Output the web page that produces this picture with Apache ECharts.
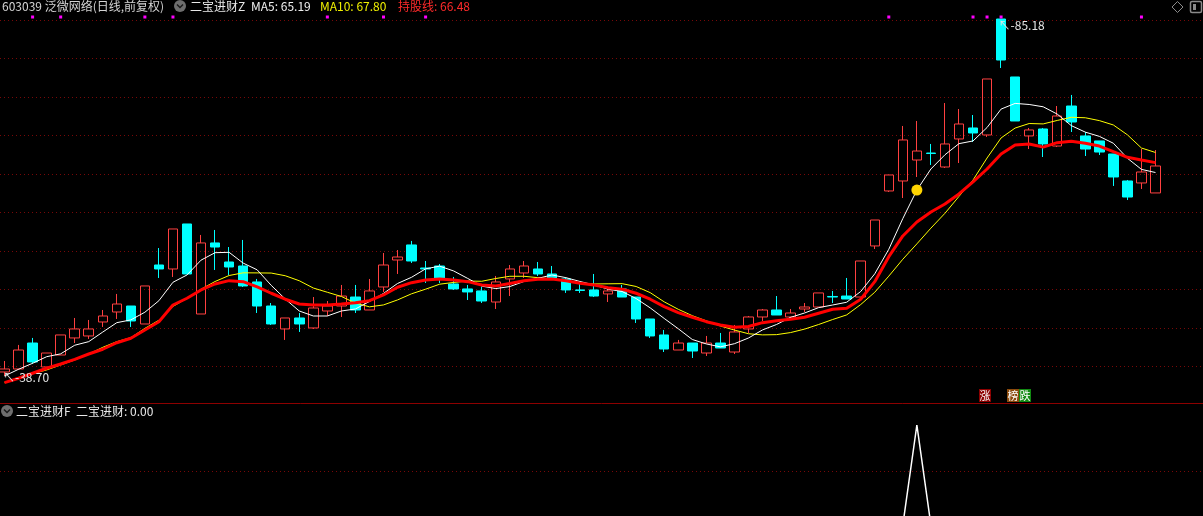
<!DOCTYPE html>
<html>
<head>
<meta charset="utf-8">
<title>603039 泛微网络</title>
<script src="https://cdn.jsdelivr.net/npm/echarts@6.0.0/dist/echarts.min.js"></script>
<style>
html, body { margin: 0; padding: 0; background: #000; overflow: hidden; }
#kline { width: 1203px; height: 516px; }
</style>
</head>
<body>
<div id="kline"></div>
<script>
// daily candles (price)
const opens = [39.22,39.61,42.99,39.87,41.43,43.65,43.91,45.73,47.03,47.81,
  45.47,53.15,52.63,58.49,46.77,56.02,53.54,53.02,50.94,47.81,
  44.82,46.25,44.95,47.16,47.81,48.98,47.29,50.29,53.80,55.76,
  52.76,53.02,50.68,50.03,49.77,48.33,51.33,52.11,52.63,51.98,
  51.33,49.90,49.90,49.38,50.03,48.98,46.12,44.04,42.08,42.99,
  41.69,42.99,41.82,44.82,46.38,47.29,46.38,47.42,47.68,49.05,
  49.11,48.98,55.63,62.79,64.09,66.82,67.73,65.91,69.56,70.99,
  70.08,85.18,77.63,69.95,70.86,68.64,73.85,69.95,69.30,67.60,
  64.09,63.83,62.53];
const closes = [39.61,42.08,40.52,41.69,44.04,44.82,44.82,46.51,48.07,45.86,
  50.42,52.63,57.84,51.98,56.02,55.49,52.89,50.42,47.81,45.47,
  46.25,45.47,47.55,47.81,49.11,47.29,49.77,53.15,54.19,53.67,
  52.63,51.33,50.03,49.64,48.46,50.94,52.63,53.02,51.98,51.46,
  49.90,49.84,49.11,49.77,48.98,46.12,43.91,42.21,42.99,41.95,
  42.99,42.34,44.43,46.38,47.29,46.64,46.90,47.68,49.51,48.98,
  48.72,53.67,59.01,64.87,69.43,67.99,67.67,68.91,71.51,70.34,
  77.37,79.84,71.90,70.73,68.91,72.55,71.77,68.25,67.86,64.61,
  62.00,65.26,66.04];
const lows = [38.70,39.48,40.26,39.87,41.43,42.99,43.52,45.08,46.12,45.08,
  45.47,51.46,51.59,51.98,46.77,52.50,51.85,50.29,46.90,45.34,
  43.39,44.43,44.82,46.51,46.38,46.90,47.29,49.64,51.98,53.41,
  50.81,50.81,49.90,48.59,48.20,47.42,49.11,51.46,51.72,51.20,
  49.51,49.51,48.98,48.33,48.98,45.60,43.65,41.82,42.08,41.04,
  41.30,42.34,41.56,44.30,45.86,46.64,45.99,47.03,47.68,48.20,
  48.72,48.98,55.23,62.66,61.87,64.61,66.17,65.78,66.43,69.17,
  69.82,78.80,71.90,68.25,67.21,68.51,70.47,67.34,67.47,63.44,
  61.61,63.05,62.53];
const highs = [40.65,42.74,43.65,41.69,44.04,46.25,45.99,47.29,49.38,47.81,
  50.42,55.36,57.84,58.49,57.06,57.71,55.49,56.41,51.33,48.20,
  46.25,46.90,48.98,48.46,50.55,50.55,51.33,54.71,55.10,56.28,
  53.67,53.28,51.59,50.55,50.29,51.72,53.15,53.67,53.54,53.02,
  51.46,50.81,51.98,50.03,50.55,48.98,46.12,44.69,43.39,42.99,
  43.91,44.30,45.34,46.51,47.42,49.11,47.42,48.20,49.51,49.77,
  51.46,53.67,59.01,64.87,71.25,71.90,68.91,74.24,73.46,72.68,
  77.37,85.18,77.63,70.99,70.99,73.85,75.29,70.47,69.30,67.60,
  64.22,68.25,68.12];

// indicator lines
const ma5 = [38.70,39.57,40.35,41.21,41.58,42.70,43.17,44.42,45.64,46.00,
  47.00,48.50,50.90,51.85,53.78,54.75,54.80,53.40,52.52,50.50,
  48.72,47.16,46.51,46.51,47.16,47.42,48.40,49.45,50.74,51.55,
  52.65,53.00,52.37,51.40,50.40,50.08,50.34,51.00,51.41,51.85,
  51.50,51.00,50.55,50.00,49.70,48.78,47.57,46.19,44.85,43.45,
  42.87,42.49,42.90,43.64,44.69,45.40,46.33,46.90,47.60,47.94,
  48.30,49.70,52.00,55.20,59.20,62.90,65.65,67.50,68.95,69.30,
  71.05,73.45,74.19,74.05,73.75,72.80,71.30,70.45,69.90,69.00,
  67.05,65.60,65.19];
const ma10 = [37.83,38.40,39.00,39.48,40.13,40.78,41.56,42.43,43.17,43.69,
  44.90,45.96,47.75,48.80,50.00,51.00,51.78,52.13,52.12,52.10,
  51.75,51.10,50.15,49.60,49.05,48.20,47.70,47.95,48.60,49.40,
  50.00,50.65,50.88,51.06,51.03,51.39,51.68,51.68,51.50,51.35,
  51.00,50.80,50.68,50.70,50.72,50.35,49.55,48.35,47.38,46.55,
  45.88,45.20,44.68,44.20,44.05,44.08,44.35,44.80,45.40,46.05,
  46.65,48.00,49.60,51.70,53.90,55.90,57.95,59.88,62.08,64.21,
  67.08,69.69,70.98,71.57,71.52,71.97,72.38,72.32,71.95,71.38,
  70.10,68.38,67.80];
const holdLine = [37.83,38.40,39.05,39.70,40.26,40.87,41.56,42.18,43.03,43.61,
  44.69,45.77,47.94,48.82,49.90,50.68,51.11,50.98,50.29,49.47,
  48.69,48.07,47.94,47.94,48.07,48.24,48.50,49.25,50.25,50.85,
  51.20,51.33,51.20,50.98,50.55,50.42,50.74,51.11,51.29,51.33,
  51.11,50.77,50.55,50.20,49.99,49.47,48.69,47.72,46.94,46.34,
  45.77,45.34,45.04,45.14,45.64,45.90,46.08,46.34,46.86,47.38,
  47.51,48.69,50.98,54.23,56.93,58.75,60.05,61.09,62.40,63.96,
  65.65,67.60,68.78,68.91,68.50,69.08,69.26,69.00,68.64,67.90,
  67.17,66.82,66.48];

// 二宝进财F: 0 except the buy day
const signalF = [0,0,0,0,0,0,0,0,0,0, 0,0,0,0,0,0,0,0,0,0,
  0,0,0,0,0,0,0,0,0,0, 0,0,0,0,0,0,0,0,0,0,
  0,0,0,0,0,0,0,0,0,0, 0,0,0,0,0,0,0,0,0,0,
  0,0,0,0,0,1,0,0,0,0, 0,0,0,0,0,0,0,0,0,0, 0,0,0];
const buyDays = [65];
const flagDays = [2,4,10,12,23,27,30,63,69,70,71,81];

const days = opens.map((_, i) => String(i + 1));

const FONT = '"Noto Sans CJK SC", "Noto Sans", sans-serif';
const GRIDC = '#780808';

let chart = echarts.init(document.getElementById('kline'));

let candles = opens.map((o, i) => [o, closes[i], lows[i], highs[i]]);
let hiVal = Math.max(...highs), loVal = Math.min(...lows);
let hiIdx = highs.indexOf(hiVal), loIdx = lows.indexOf(loVal);

function lineSerie(name, data, color, width) {
    return {
        name: name, type: 'line', data: data,
        xAxisIndex: 0, yAxisIndex: 0,
        symbol: 'none', silent: true,
        lineStyle: { color: color, width: width }
    };
}

function headText(x, y, text, color) {
    return {
        type: 'text', x: x, y: y, z: 100,
        style: { text: text, fill: color, font: '12px ' + FONT, verticalAlign: 'middle' }
    };
}

function tagBox(x, text, bg) {
    return [
        { type: 'rect', z: 100, shape: { x: x, y: 389, width: 12, height: 13 }, style: { fill: bg } },
        { type: 'text', z: 101, x: x + 6, y: 396, style: { text: text, fill: '#ffffff', font: '11px ' + FONT, align: 'center', verticalAlign: 'middle' } }
    ];
}

function foldIcon(cx, cy) {
    return [
        { type: 'circle', z: 100, shape: { cx: cx, cy: cy, r: 6 }, style: { fill: '#6e6e6e' } },
        { type: 'polyline', z: 101, shape: { points: [[cx - 3, cy - 1.5], [cx, cy + 1.5], [cx + 3, cy - 1.5]] }, style: { stroke: '#1a1a1a', lineWidth: 1.5, fill: null } }
    ];
}

let option = {
    backgroundColor: '#000000',
    animation: false,
    grid: [
        // price panel: y 19 -> 85.18, y 403 -> 35.18
        { left: -2.5, right: 40.5, top: 19, height: 384, outerBoundsMode: 'none' },
        // signal panel: value 1 at y 425, the zero level sits 9px under the window
        { left: -2.5, right: 40.5, top: 425, height: 91, outerBoundsMode: 'none' },
        { left: 0, right: 0, top: 20, height: 383, outerBoundsMode: 'none' },
        { left: 0, right: 0, top: 471, height: 45, outerBoundsMode: 'none' }
    ],
    xAxis: [
        { type: 'category', gridIndex: 0, data: days, show: false },
        { type: 'category', gridIndex: 1, data: days, show: false },
        { type: 'value', gridIndex: 2, min: 0, max: 1, show: false },
        { type: 'value', gridIndex: 3, min: 0, max: 1, show: false }
    ],
    yAxis: [
        { type: 'value', gridIndex: 0, min: 35.18, max: 85.18, show: false },
        { type: 'value', gridIndex: 1, min: 0.09, max: 1, show: false },
        {
            type: 'value', gridIndex: 2, inverse: true, min: 0, max: 9.948, interval: 1,
            axisLine: { show: false }, axisTick: { show: false }, axisLabel: { show: false },
            splitLine: { show: true, showMaxLine: false, lineStyle: { color: GRIDC, type: [1, 3], width: 1 } }
        },
        {
            type: 'value', gridIndex: 3, inverse: true, min: 0, max: 1, interval: 1,
            axisLine: { show: false }, axisTick: { show: false }, axisLabel: { show: false },
            splitLine: { show: true, showMaxLine: false, lineStyle: { color: GRIDC, type: [1, 3], width: 1 } }
        }
    ],
    series: [
        {
            name: 'K', type: 'candlestick', data: candles,
            xAxisIndex: 0, yAxisIndex: 0, barWidth: 10, silent: true,
            itemStyle: {
                color: 'transparent', color0: '#00ffff',
                borderColor: '#ff4040', borderColor0: '#00ffff', borderWidth: 1
            },
            markPoint: {
                symbol: 'circle', symbolSize: 1, silent: true,
                itemStyle: { color: 'transparent' },
                label: {
                    show: true, position: 'right', distance: 0,
                    color: '#e4e4e4', fontSize: 12, fontFamily: FONT,
                    formatter: p => '↖-' + p.value.toFixed(2)
                },
                data: [
                    { coord: [hiIdx, hiVal], value: hiVal, label: { offset: [-3, 6] } },
                    { coord: [loIdx, loVal], value: loVal, label: { offset: [-2, 1] } }
                ]
            }
        },
        lineSerie('MA10', ma10, '#ffff00', 1),
        lineSerie('MA5', ma5, '#ffffff', 1),
        lineSerie('持股线', holdLine, '#ff0000', 3),
        {
            name: 'buy', type: 'scatter', xAxisIndex: 0, yAxisIndex: 0,
            data: buyDays.map(i => [i, ma5[i]]),
            symbolSize: 11, itemStyle: { color: '#ffd400', opacity: 1 }, silent: true, z: 5
        },
        {
            name: 'flag', type: 'scatter', xAxisIndex: 0, yAxisIndex: 0, clip: false,
            data: flagDays.map(i => [i, 85.44]),
            symbol: 'rect', symbolSize: 3, itemStyle: { color: '#ff00ff', opacity: 1 }, silent: true
        },
        {
            name: '二宝进财', type: 'line', xAxisIndex: 1, yAxisIndex: 1,
            data: signalF, symbol: 'none', silent: true, clip: true,
            lineStyle: { color: '#ffffff', width: 1.5 }
        }
    ],
    graphic: [
        headText(2, 6, '603039 泛微网络(日线,前复权)', '#d4d4d4'),
        ...foldIcon(180, 6),
        headText(190, 6, '二宝进财Z', '#e8e8e8'),
        headText(251, 6, 'MA5: 65.19', '#f0f0f0'),
        headText(320, 6, 'MA10: 67.80', '#f0f000'),
        headText(398, 6, '持股线: 66.48', '#ff2a2a'),
        { type: 'line', z: 100, shape: { x1: 0, y1: 403.5, x2: 1203, y2: 403.5 }, style: { stroke: '#8c0000', lineWidth: 1 } },
        ...foldIcon(7, 411),
        headText(16, 411, '二宝进财F  二宝进财: 0.00', '#e8e8e8'),
        ...tagBox(979, '涨', '#8c0000'),
        ...tagBox(1007, '榜', '#8b4a0c'),
        ...tagBox(1019, '跌', '#128a12'),
        { type: 'polygon', z: 100, shape: { points: [[1177.5, 1.5], [1183, 7], [1177.5, 12.5], [1172, 7]] }, style: { stroke: '#8a8a8a', fill: null, lineWidth: 1 } },
        { type: 'rect', z: 100, shape: { x: 1190.5, y: 1.5, width: 11, height: 11, r: 1.5 }, style: { stroke: '#8a8a8a', fill: null, lineWidth: 1.5 } },
        { type: 'rect', z: 100, shape: { x: 1193, y: 4, width: 3, height: 6 }, style: { fill: '#8a8a8a' } }
    ]
};

chart.setOption(option);
</script>
</body>
</html>
